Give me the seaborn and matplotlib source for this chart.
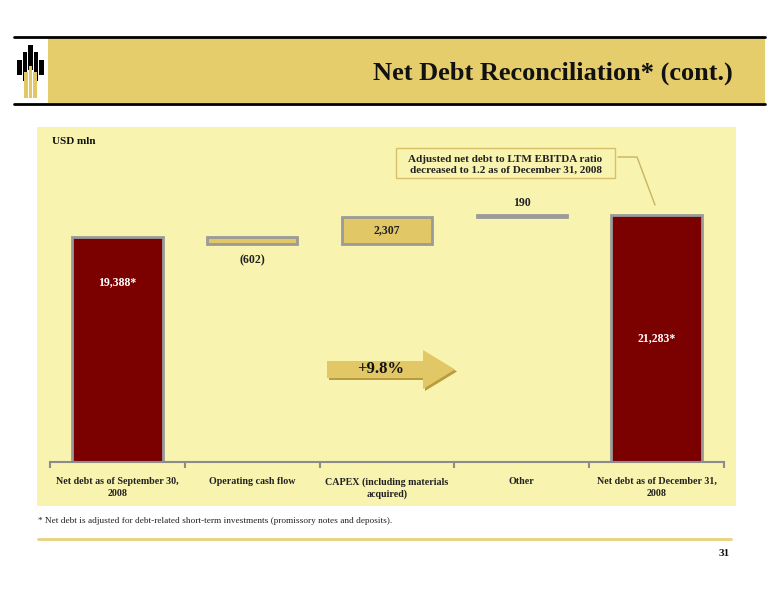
import numpy as np
import pandas as pd
import seaborn as sns
import matplotlib.pyplot as plt
from matplotlib.patches import Rectangle, Polygon
from matplotlib.lines import Line2D

# data
categories = ["Net debt as of September 30,\n2008", "Operating cash flow",
              "CAPEX (including materials\nacquired)", "Other",
              "Net debt as of December 31,\n2008"]
changes = [19388, -602, 2307, 190, 21283]
value_labels = ["19,388*", "(602)", "2,307", "190", "21,283*"]
bar_colors = ["#7B0000", "#E2C766", "#E2C766", "#9A9A9A", "#7B0000"]

# waterfall: first and last bars start at 0, the others float
bottoms, heights = [], []
level = 0
for i, c in enumerate(changes):
    if i == 0 or i == len(changes) - 1:
        bottoms.append(0)
        heights.append(c)
        level = c
    else:
        bottoms.append(level + min(c, 0))
        heights.append(abs(c))
        level += c
df = pd.DataFrame({"category": categories, "height": heights, "bottom": bottoms})

sns.set_style("white")
plt.rcParams['font.family'] = ['Liberation Serif', 'DejaVu Serif']

W, H = 776, 600
fig = plt.figure(figsize=(W / 100, H / 100), dpi=100)

def fx(x):
    return x / W

def fy(y):
    return 1 - y / H

def rect(x0, y0, x1, y1, **kw):
    fig.add_artist(Rectangle((fx(x0), fy(y1)), fx(x1) - fx(x0), fy(y0) - fy(y1),
                             transform=fig.transFigure, **kw))

def hline(x0, x1, y, **kw):
    fig.add_artist(Line2D([fx(x0), fx(x1)], [fy(y), fy(y)], transform=fig.transFigure, **kw))

# header
rect(48, 38, 765, 103, facecolor="#E5CD6B", edgecolor="none", zorder=-5)
hline(14, 765, 37, color="black", lw=2)
hline(14, 765, 104, color="black", lw=2)
fig.text(fx(733), fy(73), "Net Debt Reconciliation* (cont.)", ha="right", va="center",
         fontsize=19, fontweight="bold", color="#111111")

# logo (rough)
for xc, top, bot in [(19.5, 60, 75), (25, 52, 81), (30.5, 45, 70), (36, 52, 81), (41.5, 60, 75)]:
    rect(xc - 2.4, top, xc + 2.4, bot, facecolor="black", edgecolor="none")
for x0, top in [(24.2, 72), (28.6, 66), (33.0, 72)]:
    rect(x0, top, x0 + 3.8, 98, facecolor="#E3C764", edgecolor="none")

# chart panel
rect(37, 127, 736, 506, facecolor="#F8F3AE", edgecolor="none", zorder=-5)

ax = fig.add_axes([fx(50), fy(462), fx(724) - fx(50), fy(127) - fy(462)])
ax.set_facecolor("none")

sns.barplot(data=df, x="category", y="height", bottom=df["bottom"].values,
            width=0.67, color=bar_colors[0], ax=ax)

for p, col in zip(ax.patches, bar_colors):
    p.set_facecolor(col)
    p.set_edgecolor("#9A9A9A")
    p.set_linewidth(2)

scale = 19388 / 225.0
ax.set_ylim(0, 335 * scale)
ax.set_xlim(-0.5, len(categories) - 0.5)

# value labels
tops = [b + h for b, h in zip(bottoms, heights)]
lab = dict(ha="center", va="center", fontsize=8.5, fontweight="bold")
ax.text(0, heights[0] * 0.8, value_labels[0], color="white", **lab)
ax.text(4, heights[4] * 0.5, value_labels[4], color="white", **lab)
ax.annotate(value_labels[1], (1, bottoms[1]), xytext=(0, -12), textcoords="offset points",
            color="#222222", **lab)
ax.text(2, bottoms[2] + heights[2] / 2, value_labels[2], color="#222222", **lab)
ax.annotate(value_labels[3], (3, tops[3]), xytext=(0, 9), textcoords="offset points",
            color="#222222", **lab)

# axis styling
sns.despine(ax=ax, left=True, top=True, right=True)
ax.spines["bottom"].set_color("#8C8C8C")
ax.spines["bottom"].set_linewidth(1.5)
ax.set_yticks([])
ax.set_xlabel("")
ax.set_ylabel("")
ax.set_xticks(range(len(categories)))
ax.set_xticklabels(categories, fontsize=7.2, fontweight="bold", color="#222222", linespacing=1.4)
ax.tick_params(axis="x", which="major", length=0, pad=11)
ax.set_xticks(np.arange(-0.5, len(categories)), minor=True)
ax.tick_params(axis="x", which="minor", bottom=True, length=4, width=1.5,
               color="#8C8C8C", direction="out")

fig.text(fx(52), fy(141), "USD mln", fontsize=8, fontweight="bold", va="center", color="#111111")

# note box
rect(396, 148, 615, 178, facecolor="#F8F3AE", edgecolor="#D6C06A", lw=1)
fig.text(fx(505.5), fy(159), "Adjusted net debt to LTM EBITDA ratio", ha="center", va="center",
         fontsize=8, fontweight="bold", color="#222222")
fig.text(fx(505.5), fy(170.5), "decreased to 1.2 as of December 31, 2008", ha="center", va="center",
         fontsize=8, fontweight="bold", color="#222222")
fig.add_artist(Line2D([fx(618), fx(637), fx(655)], [fy(157), fy(157), fy(205)],
                      transform=fig.transFigure, color="#C9B262", lw=1))

# growth arrow
arrow_px = [(327, 361), (423, 361), (423, 350), (455, 369.5), (423, 389), (423, 378), (327, 378)]
fig.add_artist(Polygon([(fx(x + 2), fy(y + 2)) for x, y in arrow_px], closed=True,
                       transform=fig.transFigure, facecolor="#B89C3E", edgecolor="none"))
fig.add_artist(Polygon([(fx(x), fy(y)) for x, y in arrow_px], closed=True,
                       transform=fig.transFigure, facecolor="#E2C766", edgecolor="none"))
fig.text(fx(381), fy(369), "+9.8%", ha="center", va="center", fontsize=12,
         fontweight="bold", color="#111111")

# footnote and footer
fig.text(fx(38), fy(521), "* Net debt is adjusted for debt-related short-term investments (promissory notes and deposits).",
         fontsize=6.7, va="center", color="#222222")
hline(38, 731, 539, color="#E8D27A", lw=2)
fig.text(fx(730), fy(553), "31", ha="right", va="center", fontsize=8, fontweight="bold", color="#111111")

fig.savefig("out.png", dpi=100)
